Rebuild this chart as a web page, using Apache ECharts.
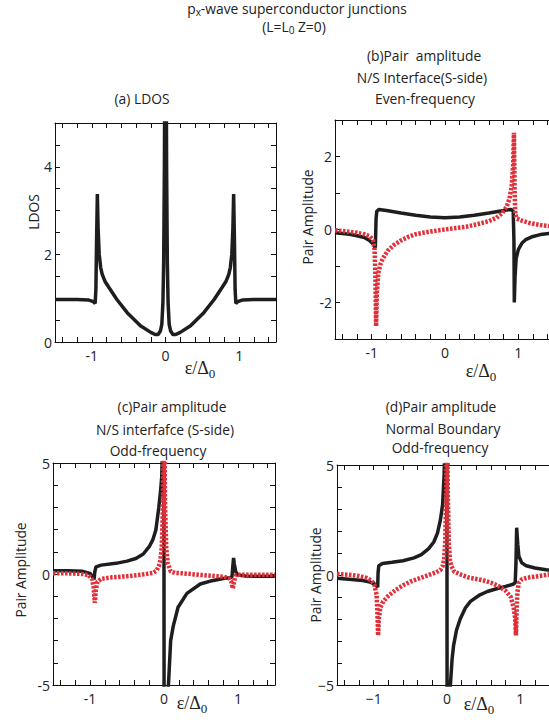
<!DOCTYPE html>
<html>
<head>
<meta charset="utf-8">
<script src="https://cdn.jsdelivr.net/npm/echarts@6/dist/echarts.min.js"></script>
<style>
  html, body { margin: 0; padding: 0; background: #fff; }
  #chart { width: 549px; height: 723px; }
</style>
</head>
<body>
<div id="chart"></div>
<script>
// tick positions / labels
var xTicks = [-1.4, -1.2, -1.0, -0.8, -0.6, -0.4, -0.2, 0, 0.2, 0.4, 0.6, 0.8, 1.0, 1.2, 1.4]
var xLabels = [-1, 0, 1]
var ldosTicks = [0.5, 1, 1.5, 2, 2.5, 3, 3.5, 4, 4.5]
var ldosLabels = [0, 2, 4]
var evenTicks = [-2, -1, 0, 1, 2]
var evenLabels = [-2, 0, 2]
var oddTicks = [-4, -3, -2, -1, 0, 1, 2, 3, 4]
var oddLabels = [-5, 0, 5]

// (a) LDOS  [ε/Δ0, LDOS]
var ldos = [
  [-1.5, 0.97], [-1.2, 0.97], [-1.05, 0.96], [-0.98, 0.92], [-0.955, 0.88], [-0.945, 1.2],
  [-0.935, 2.4], [-0.925, 3.38], [-0.915, 2.6], [-0.9, 2.0], [-0.88, 1.7], [-0.86, 1.55],
  [-0.82, 1.38], [-0.77, 1.25], [-0.66, 0.97], [-0.52, 0.67], [-0.34, 0.37], [-0.2, 0.22],
  [-0.14, 0.17], [-0.1, 0.17], [-0.07, 0.25], [-0.05, 0.4], [-0.035, 0.9], [-0.025, 1.8],
  [-0.015, 4], [-0.008, 7], [0, 9],
  [0.008, 7], [0.015, 4], [0.025, 1.8], [0.035, 0.9], [0.05, 0.4], [0.07, 0.25], [0.1, 0.17],
  [0.14, 0.17], [0.2, 0.22], [0.34, 0.37], [0.52, 0.67], [0.66, 0.97], [0.77, 1.25],
  [0.82, 1.38], [0.86, 1.55], [0.88, 1.7], [0.9, 2.0], [0.915, 2.6], [0.925, 3.38],
  [0.935, 2.4], [0.945, 1.2], [0.955, 0.88], [0.98, 0.92], [1.05, 0.96], [1.2, 0.97], [1.5, 0.97]
]

// (b) N/S interface, even-frequency
var evenBlack = [
  [-1.5, -0.09], [-1.3, -0.13], [-1.2, -0.17], [-1.1, -0.22], [-1.03, -0.3], [-0.98, -0.4],
  [-0.95, -0.5], [-0.94, 0.3], [-0.93, 0.5], [-0.9, 0.55], [-0.8, 0.52], [-0.6, 0.45],
  [-0.4, 0.39], [-0.2, 0.34], [0, 0.32], [0.2, 0.34], [0.4, 0.39], [0.6, 0.45], [0.8, 0.52],
  [0.9, 0.55], [0.93, 0.5], [0.94, -0.3], [0.945, -2.0], [0.955, -1.3], [0.97, -0.8],
  [1.0, -0.55], [1.05, -0.37], [1.1, -0.28], [1.2, -0.19], [1.3, -0.14], [1.5, -0.09]
]
var evenRed = [
  [-1.5, -0.02], [-1.3, -0.06], [-1.2, -0.09], [-1.1, -0.13], [-1.03, -0.18], [-0.98, -0.3],
  [-0.96, -0.55], [-0.95, -1.2], [-0.94, -2.65], [-0.93, -1.8], [-0.91, -1.2], [-0.88, -0.95],
  [-0.85, -0.8], [-0.78, -0.58], [-0.7, -0.43], [-0.6, -0.3], [-0.5, -0.2], [-0.4, -0.13],
  [-0.3, -0.09], [-0.15, -0.04], [0, 0], [0.15, 0.04], [0.3, 0.08], [0.45, 0.15], [0.6, 0.23],
  [0.7, 0.32], [0.78, 0.45], [0.84, 0.62], [0.88, 0.85], [0.91, 1.2], [0.93, 1.8], [0.94, 2.65],
  [0.95, 1.0], [0.96, 0.4], [0.98, 0.3], [1.05, 0.24], [1.15, 0.18], [1.3, 0.12], [1.5, 0.08]
]

// (c) N/S interface, odd-frequency
var oddBlackC = [
  [-1.5, 0.15], [-1.3, 0.15], [-1.1, 0.12], [-1.0, 0.03], [-0.96, -0.15], [-0.945, -0.25],
  [-0.935, 0.1], [-0.92, 0.32], [-0.85, 0.4], [-0.65, 0.48], [-0.5, 0.58], [-0.38, 0.7],
  [-0.28, 0.9], [-0.2, 1.23], [-0.15, 1.55], [-0.11, 1.98], [-0.07, 3.0], [-0.045, 3.8],
  [-0.03, 4.4], [-0.015, 6.5], [-0.002, 9], [0.002, -9], [0.03, -6], [0.06, -5],
  [0.09, -3.0], [0.125, -2.35], [0.19, -1.5], [0.31, -0.87], [0.49, -0.45], [0.65, -0.3],
  [0.8, -0.2], [0.9, -0.17], [0.92, -0.1], [0.93, 0.35], [0.94, 0.72], [0.95, 0.45],
  [0.97, 0.1], [1.0, -0.05], [1.1, -0.09], [1.3, -0.1], [1.5, -0.1]
]
var oddRedC = [
  [-1.5, 0.03], [-1.3, 0.03], [-1.1, 0.0], [-1.02, -0.05], [-0.97, -0.25], [-0.95, -0.6],
  [-0.935, -1.3], [-0.92, -0.7], [-0.9, -0.35], [-0.85, -0.22], [-0.7, -0.15], [-0.5, -0.1],
  [-0.3, -0.03], [-0.15, 0.05], [-0.1, 0.15], [-0.07, 0.35], [-0.05, 0.6], [-0.03, 1.2],
  [-0.015, 3], [0, 8], [0.015, 3], [0.03, 1.2], [0.05, 0.5], [0.09, 0.12], [0.15, 0.05],
  [0.25, 0.03], [0.52, -0.05], [0.8, -0.12], [0.88, -0.2], [0.91, -0.35], [0.93, -0.65],
  [0.95, -0.3], [0.97, -0.05], [1.0, -0.03], [1.2, -0.03], [1.5, -0.03]
]

// (d) normal boundary, odd-frequency
var oddBlackD = [
  [-1.5, -0.15], [-1.3, -0.2], [-1.15, -0.25], [-1.05, -0.32], [-0.99, -0.4], [-0.96, -0.5],
  [-0.945, -0.55], [-0.94, 0.1], [-0.93, 0.42], [-0.88, 0.52], [-0.75, 0.58], [-0.6, 0.65],
  [-0.45, 0.78], [-0.35, 0.93], [-0.25, 1.2], [-0.18, 1.5], [-0.13, 1.9], [-0.09, 2.5],
  [-0.06, 3.2], [-0.04, 4.5], [-0.02, 7], [-0.002, 9], [0.002, -9], [0.03, -6], [0.05, -4.8],
  [0.07, -3.8], [0.09, -3.2], [0.13, -2.5], [0.18, -2.0], [0.25, -1.5], [0.32, -1.2],
  [0.45, -0.9], [0.55, -0.75], [0.7, -0.6], [0.8, -0.52], [0.9, -0.42], [0.93, -0.35],
  [0.94, 0.5], [0.95, 2.15], [0.965, 1.4], [0.98, 0.85], [1.02, 0.55], [1.08, 0.42],
  [1.2, 0.32], [1.35, 0.24], [1.5, 0.2]
]
var oddRedD = [
  [-1.5, 0.05], [-1.3, 0.0], [-1.2, -0.05], [-1.1, -0.13], [-1.03, -0.25], [-0.99, -0.45],
  [-0.96, -0.9], [-0.95, -1.6], [-0.94, -2.75], [-0.93, -2.0], [-0.91, -1.5], [-0.87, -1.2],
  [-0.8, -0.95], [-0.7, -0.68], [-0.6, -0.47], [-0.5, -0.3], [-0.4, -0.18], [-0.25, 0.0],
  [-0.15, 0.12], [-0.09, 0.23], [-0.06, 0.4], [-0.04, 0.7], [-0.025, 1.5], [-0.012, 3.5],
  [0, 8], [0.012, 3.5], [0.025, 1.5], [0.04, 0.7], [0.06, 0.4], [0.1, 0.15], [0.2, 0.0],
  [0.3, -0.12], [0.4, -0.18], [0.5, -0.25], [0.6, -0.35], [0.7, -0.5], [0.8, -0.72],
  [0.87, -1.0], [0.91, -1.5], [0.93, -2.0], [0.94, -2.75], [0.95, -1.6], [0.96, -0.8],
  [0.98, -0.35], [1.02, -0.2], [1.1, -0.12], [1.25, -0.05], [1.4, 0.03], [1.5, 0.05]
]

var sans = '"Open Sans", "Noto Sans", sans-serif'
var serif = '"Liberation Serif", "DejaVu Serif", serif'
var ink = '#222'
var frame = { show: true, onZero: false, lineStyle: { color: '#111', width: 1 } }

var grids = [
  { left: 55, top: 123, width: 221, height: 219 },
  { left: 335, top: 120, width: 220, height: 219 },
  { left: 53, top: 463, width: 222, height: 222 },
  { left: 337, top: 465, width: 220, height: 220 }
]
var yDefs = [
  { min: 0, max: 5, ticks: ldosTicks, labels: ldosLabels },
  { min: -3, max: 3, ticks: evenTicks, labels: evenLabels },
  { min: -5, max: 5, ticks: oddTicks, labels: oddLabels },
  { min: -5, max: 5, ticks: oddTicks, labels: oddLabels }
]

function labelFmt(i) {
  return function (v) {
    var s = String(v)
    return i == 3 ? s.replace('-', '\u2212') : s
  }
}

var xAxes = []
var yAxes = []
grids.forEach(function (g, i) {
  var yd = yDefs[i]
  ;['bottom', 'top'].forEach(function (pos) {
    xAxes.push({
      gridIndex: i, type: 'value', min: -1.5, max: 1.5, position: pos,
      axisLine: frame,
      axisTick: { show: true, inside: true, length: 5, customValues: xTicks, lineStyle: { color: '#111' } },
      axisLabel: {
        show: pos == 'bottom', customValues: xLabels, margin: 6,
        color: ink, fontSize: 14, fontFamily: sans, formatter: labelFmt(i)
      },
      splitLine: { show: false }
    })
  })
  ;['left', 'right'].forEach(function (pos) {
    yAxes.push({
      gridIndex: i, type: 'value', min: yd.min, max: yd.max, position: pos,
      axisLine: frame,
      axisTick: { show: true, inside: true, length: 5, customValues: yd.ticks, lineStyle: { color: '#111' } },
      axisLabel: {
        show: pos == 'left', customValues: yd.labels, margin: 3,
        color: ink, fontSize: 14, fontFamily: sans, formatter: labelFmt(i)
      },
      splitLine: { show: false }
    })
  })
})

function blackLine(i, data) {
  return {
    type: 'line', xAxisIndex: 2 * i, yAxisIndex: 2 * i, data: data,
    showSymbol: false, symbol: 'none', clip: true,
    lineStyle: { color: '#1e1e1e', width: 3.5 }, z: 3
  }
}
function redLine(i, data) {
  return {
    type: 'line', xAxisIndex: 2 * i, yAxisIndex: 2 * i, data: data,
    showSymbol: false, symbol: 'none', clip: true,
    lineStyle: { color: '#e0303a', width: 4.5, type: [2.5, 1.5] }, z: 4
  }
}

function txt(x, y, text, opts) {
  opts = opts || {}
  return {
    type: 'text', x: x, y: y, rotation: opts.rotation || 0, z: 10,
    style: {
      text: text, fill: ink,
      fontSize: opts.fontSize || 13.8, fontFamily: opts.fontFamily || sans,
      align: 'center', verticalAlign: 'middle',
      textAlign: 'center', textVerticalAlign: 'middle',
      rich: opts.rich
    }
  }
}

var subRich = {
  n: { fontSize: 13.8, fontFamily: sans, lineHeight: 17, color: ink },
  s: { fontSize: 10, fontFamily: sans, lineHeight: 10, verticalAlign: 'bottom', color: ink }
}
var epsRich = {
  n: { fontSize: 18, fontFamily: serif, lineHeight: 23, color: ink },
  s: { fontSize: 13, fontFamily: serif, lineHeight: 13, verticalAlign: 'bottom', color: ink }
}
var epsText = '{n|\u03b5/\u0394}{s|0}'

var graphics = [
  txt(297, 8, '{n|p}{s|x}{n|-wave superconductor junctions}', { rich: subRich }),
  txt(294, 26, '{n|(L=L}{s|0}{n| Z=0)}', { rich: subRich }),
  txt(424, 55, '(b)Pair  amplitude'),
  txt(422, 77, 'N/S Interface(S-side)'),
  txt(425, 98, 'Even-frequency'),
  txt(142, 98, '(a) LDOS'),
  txt(172, 406, '(c)Pair amplitude'),
  txt(165, 429, 'N/S interfafce (S-side)'),
  txt(158, 450, 'Odd-frequency'),
  txt(441, 406, '(d)Pair amplitude'),
  txt(443, 428, 'Normal Boundary'),
  txt(440, 447, 'Odd-frequency'),
  txt(33, 212, 'LDOS', { rotation: Math.PI / 2 }),
  txt(307, 217, 'Pair Amplitude', { rotation: Math.PI / 2 }),
  txt(20, 570, 'Pair Amplitude', { rotation: Math.PI / 2 }),
  txt(315, 575, 'Pair Amplitude', { rotation: Math.PI / 2 }),
  txt(200, 368, epsText, { rich: epsRich }),
  txt(481, 371, epsText, { rich: epsRich }),
  txt(192, 703, epsText, { rich: epsRich }),
  txt(479, 704, epsText, { rich: epsRich })
]

var chart = echarts.init(document.getElementById('chart'), null, { renderer: 'svg' })
var option = {
  backgroundColor: '#fff',
  animation: false,
  grid: grids.map(function (g) {
    return Object.assign({ outerBoundsMode: 'none', containLabel: false }, g)
  }),
  xAxis: xAxes,
  yAxis: yAxes,
  graphic: graphics,
  series: [
    blackLine(0, ldos),
    blackLine(1, evenBlack),
    redLine(1, evenRed),
    blackLine(2, oddBlackC),
    redLine(2, oddRedC),
    blackLine(3, oddBlackD),
    redLine(3, oddRedD)
  ]
}
option && chart.setOption(option)
</script>
</body>
</html>
